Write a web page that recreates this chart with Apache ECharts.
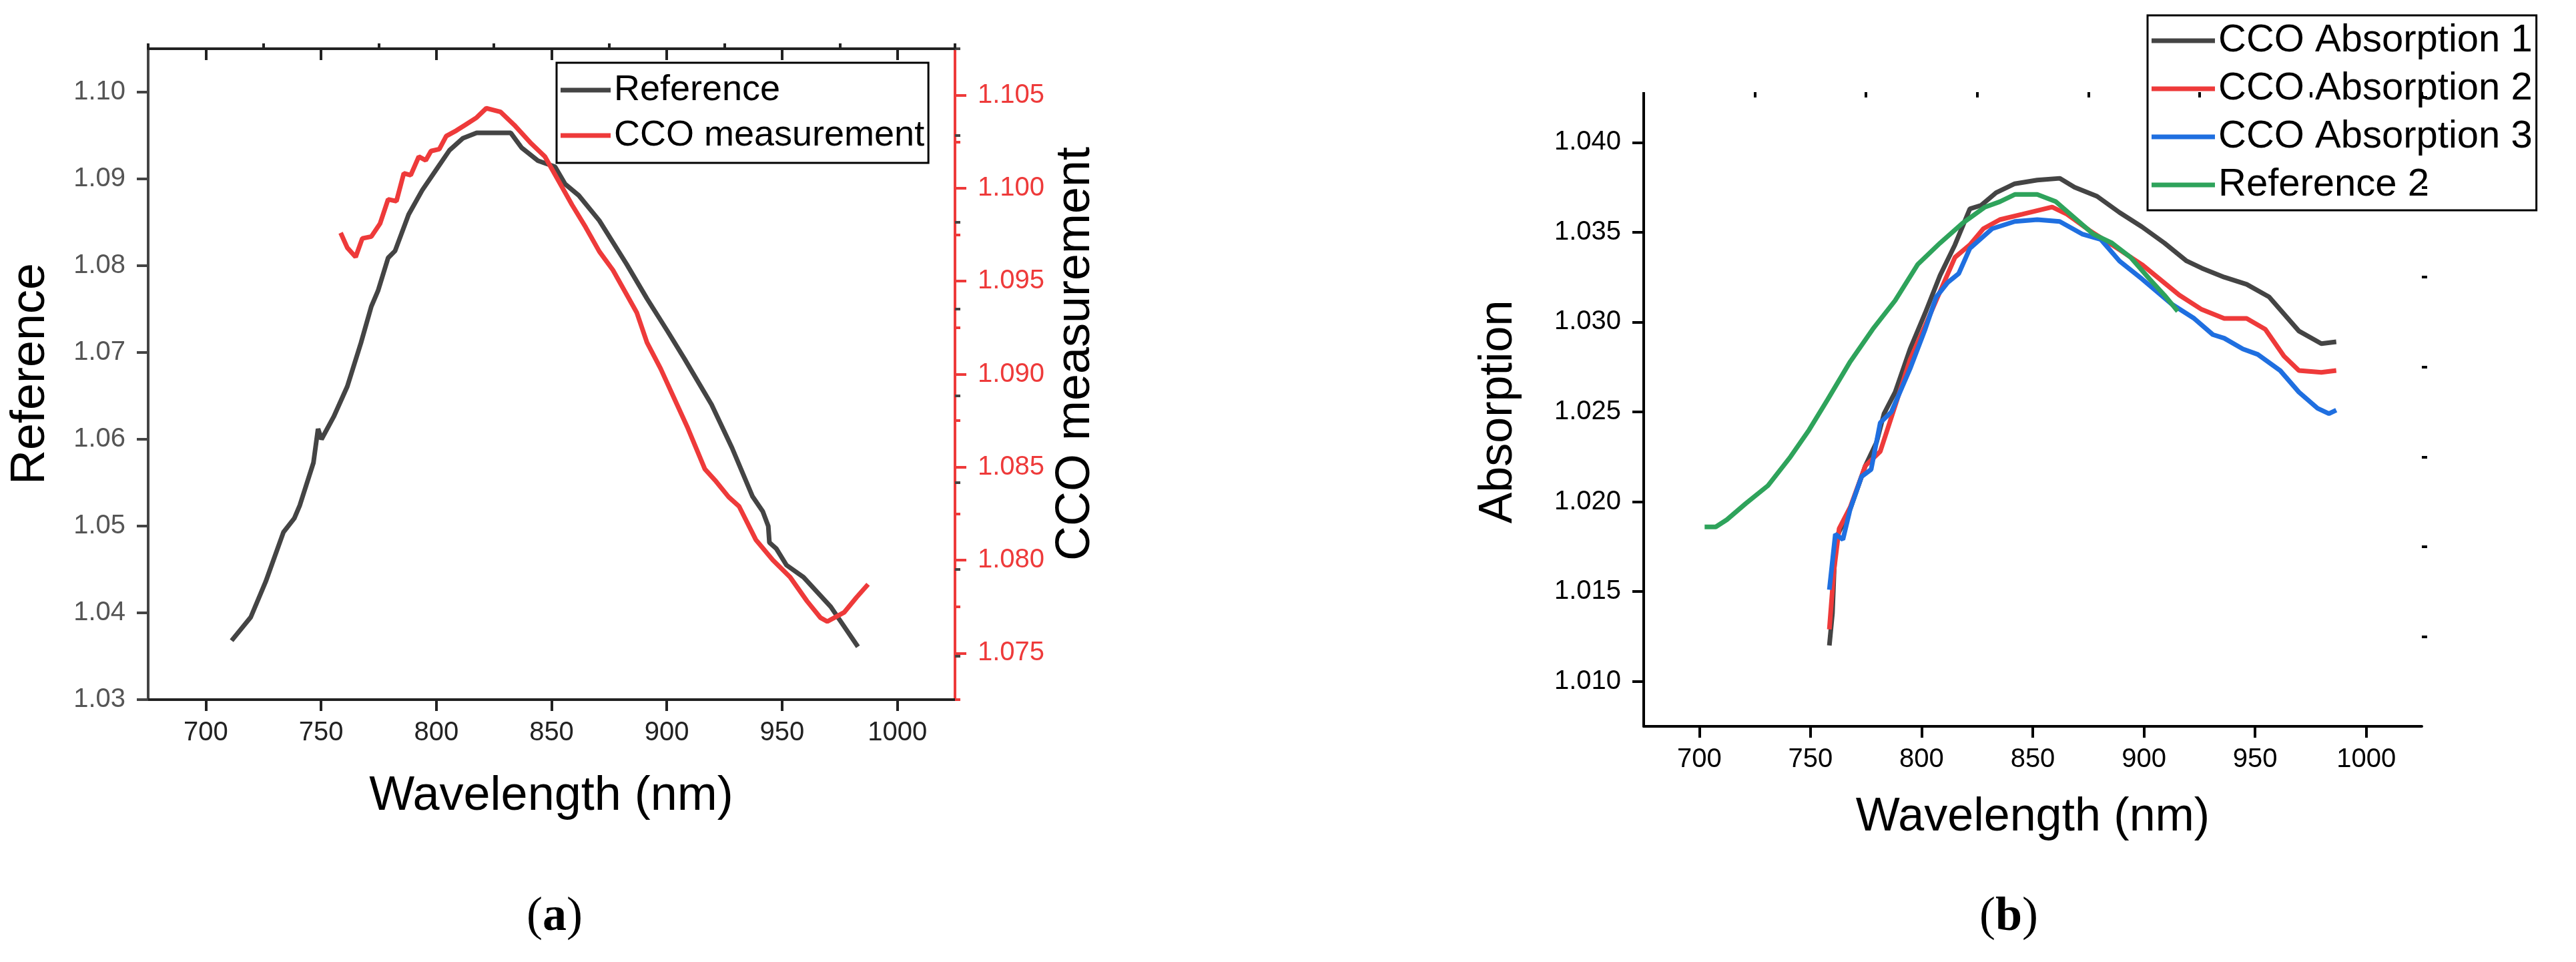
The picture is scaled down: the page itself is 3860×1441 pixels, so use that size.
<!DOCTYPE html>
<html><head><meta charset="utf-8">
<script src="https://cdn.jsdelivr.net/npm/echarts@6/dist/echarts.min.js"></script>
<style>html,body{margin:0;padding:0;background:#fff}#c{width:3860px;height:1441px}</style>
</head><body><div id="c"></div>
<script>
// ---- Data (a) ----
const refA = [[711.2,1.0368],[719.5,1.0395],[726,1.0436],[733.7,1.0493],[738.4,1.0509],[740.8,1.0524],[746.7,1.0573],[748.7,1.0612],[750.2,1.0600],[755.5,1.0626],[761.4,1.0661],[767.3,1.0711],[771.8,1.0753],[774.7,1.0771],[779.1,1.0809],[782.1,1.0817],[788,1.0859],[793.9,1.0887],[799.8,1.0910],[805.7,1.0933],[811.6,1.0947],[817.5,1.0953],[832.3,1.0953],[837,1.0936],[844.1,1.0921],[851.5,1.0914],[855.9,1.0894],[861.8,1.0881],[870.7,1.0852],[882.5,1.0802],[891.4,1.0762],[900.2,1.0725],[907.6,1.0693],[919.4,1.0640],[928.3,1.0590],[937.2,1.0534],[941.6,1.0517],[944,1.0500],[944.5,1.0481],[947.5,1.0474],[951.9,1.0455],[959.3,1.0441],[971.1,1.0407],[982.9,1.0361]];
const ccoA = [[758.5,1.0976],[761.4,1.0968],[765,1.0963],[767.9,1.0973],[771.8,1.0974],[775.6,1.0981],[779.1,1.0994],[782.7,1.0993],[785.9,1.1008],[788.9,1.1007],[792.4,1.1017],[795.4,1.1015],[797.7,1.1020],[801.3,1.1021],[804.3,1.1028],[808.7,1.1031],[812.5,1.1034],[817.5,1.1038],[821.7,1.1043],[827.9,1.1041],[833.8,1.1034],[841.2,1.1024],[847.1,1.1017],[853,1.1004],[858.9,1.0991],[864.8,1.0979],[870.7,1.0966],[876.6,1.0956],[882.5,1.0943],[887,1.0933],[891.4,1.0917],[897.3,1.0903],[903.2,1.0887],[909.1,1.0871],[916.5,1.0849],[920.9,1.0843],[926.8,1.0834],[931.3,1.0829],[938.6,1.0811],[946,1.0800],[953.4,1.0791],[960.8,1.0778],[966.7,1.0769],[969.6,1.0767],[977,1.0772],[982.3,1.0780],[987.3,1.0787]];
// ---- Data (b) ----
const abs1 = [[758.5,1.0120],[759.9,1.0138],[761.2,1.0179],[767.9,1.0196],[774.7,1.0220],[779.7,1.0233],[783.1,1.0249],[788.1,1.0261],[794.8,1.0285],[801.6,1.0305],[808.3,1.0326],[815,1.0343],[821.7,1.0363],[826.8,1.0365],[833.5,1.0372],[841.9,1.0377],[852,1.0379],[862.1,1.0380],[868.8,1.0375],[878.9,1.0370],[889,1.0361],[899.1,1.0353],[909.2,1.0344],[919.2,1.0334],[926,1.0330],[936.1,1.0325],[946.2,1.0321],[956.3,1.0314],[969.7,1.0295],[979.8,1.0288],[986.5,1.0289]];
const abs2 = [[758.5,1.0129],[760.5,1.0161],[762.9,1.0185],[767.9,1.0197],[774.7,1.0220],[781.4,1.0228],[786.4,1.0247],[794.8,1.0279],[801.6,1.0298],[808.3,1.0317],[815,1.0336],[821.7,1.0343],[827.8,1.0352],[835.2,1.0357],[845.3,1.0360],[858.7,1.0364],[865.4,1.0360],[875.5,1.0351],[885.6,1.0343],[899.1,1.0332],[915.9,1.0315],[926,1.0307],[936.1,1.0302],[946.2,1.0302],[954.6,1.0296],[963,1.0281],[969.7,1.0273],[979.8,1.0272],[986.5,1.0273]];
const abs3 = [[758.5,1.0151],[761.2,1.0182],[764.6,1.0179],[767.9,1.0196],[773,1.0214],[777.3,1.0218],[781.4,1.0244],[786.4,1.0250],[794.8,1.0274],[801.6,1.0296],[806.6,1.0314],[811.7,1.0322],[816.7,1.0327],[821.7,1.0341],[831.8,1.0352],[841.9,1.0356],[852,1.0357],[862.1,1.0356],[872.2,1.0349],[880.6,1.0346],[889,1.0334],[899.1,1.0324],[912.5,1.0310],[922.6,1.0302],[931,1.0293],[936.1,1.0291],[944.5,1.0285],[951.2,1.0282],[961.3,1.0273],[969.7,1.0261],[978.1,1.0252],[983.2,1.0249],[986.5,1.0251]];
const ref2 = [[702.4,1.0186],[707.4,1.0186],[712.4,1.0190],[720.9,1.0199],[730.9,1.0209],[741,1.0225],[749.4,1.0240],[757.8,1.0257],[767.9,1.0278],[778,1.0296],[788.1,1.0312],[798.2,1.0332],[808.3,1.0344],[818.4,1.0355],[828.5,1.0364],[835.2,1.0367],[841.9,1.0371],[852,1.0371],[860.4,1.0367],[868.8,1.0358],[877.2,1.0349],[885.6,1.0344],[894,1.0336],[902.5,1.0324],[909.2,1.0315],[915.2,1.0306]];
// ---- Tick labels ----
const xTicks = [700,750,800,850,900,950,1000];
const xMinor = [675,725,775,825,875,925,975,1025];
const yTicksA = [1.03,1.04,1.05,1.06,1.07,1.08,1.09,1.10];
const yMinorA = [1.035,1.045,1.055,1.065,1.075,1.085,1.095,1.105];
const y2TicksA = [1.075,1.080,1.085,1.090,1.095,1.100,1.105];
const y2MinorA = [1.0725,1.0775,1.0825,1.0875,1.0925,1.0975,1.1025];
const yTicksB = [1.010,1.015,1.020,1.025,1.030,1.035,1.040];
const yMinorB = [1.0125,1.0175,1.0225,1.0275,1.0325,1.0375,1.0425];

const F = 'Liberation Sans, Arial, sans-serif';
const RED = '#ee3a3a';
function ax(type, grid, opts){return Object.assign({type:'value',gridIndex:grid,splitLine:{show:false}},opts);}
function major(vals, color, len, inside, labelOpts){
  return {axisLine:{show:true,lineStyle:{color:color,width:4}},
    axisTick:{show:true,customValues:vals,length:len,inside:!!inside,lineStyle:{color:color,width:4}},
    axisLabel: labelOpts ? Object.assign({customValues:vals,fontFamily:F,fontSize:40},labelOpts) : {show:false}};
}
function minor(vals, color, len, inside){
  return {axisLine:{show:false},axisTick:{show:true,customValues:vals,length:len,inside:!!inside,lineStyle:{color:color,width:4}},axisLabel:{show:false}};
}
const xA = {min:675,max:1025};
const yA = {min:1.03,max:1.105};
const y2A = {min:1.0725,max:1.1075};
const yB = {min:1.0075,max:1.0425};

const option = {
  animation:false,
  grid:[{left:222,right:2429,top:73,bottom:393},{left:2463,right:231,top:146,bottom:353}],
  xAxis:[
    ax('v',0,Object.assign({},xA,major(xTicks,'#222',17,false,{color:'#222',margin:30,formatter:v=>String(v)}))),
    ax('v',0,Object.assign({},xA,minor(xMinor,'#222',8,false))),
    ax('v',0,Object.assign({position:'top'},xA,major(xTicks,'#222',17,true,null))),
    ax('v',1,Object.assign({},xA,major(xTicks,'#000',17,false,{color:'#000',margin:30,formatter:v=>String(v)}))),
    ax('v',1,Object.assign({},xA,minor(xMinor,'#000',8,false)))
  ],
  yAxis:[
    ax('v',0,Object.assign({},yA,major(yTicksA,'#444',17,false,{color:'#555',margin:34,formatter:v=>v.toFixed(2)}))),
    ax('v',0,Object.assign({},yA,minor(yMinorA,'#444',8,false))),
    ax('v',0,Object.assign({position:'right'},y2A,major(y2TicksA,RED,17,false,{color:RED,margin:34,formatter:v=>v.toFixed(3)}))),
    ax('v',0,Object.assign({position:'right'},y2A,minor(y2MinorA,RED,8,false))),
    ax('v',1,Object.assign({},yB,major(yTicksB,'#000',17,false,{color:'#000',margin:34,formatter:v=>v.toFixed(3)}))),
    ax('v',1,Object.assign({},yB,minor(yMinorB,'#000',8,false)))
  ],
  legend:[
    {left:834,top:94,orient:'vertical',data:['Reference','CCO measurement'],icon:'rect',itemWidth:75,itemHeight:7,itemGap:6,
     borderColor:'#000',borderWidth:3,padding:[10,6,10,6],textStyle:{fontFamily:F,fontSize:54,color:'#000',lineHeight:62}},
    {left:3218,top:23,orient:'vertical',data:['CCO Absorption 1','CCO Absorption 2','CCO Absorption 3','Reference 2'],icon:'rect',itemWidth:95,itemHeight:7,itemGap:8,
     borderColor:'#000',borderWidth:3,padding:[6,6,6,6],textStyle:{fontFamily:F,fontSize:58,color:'#000',lineHeight:64}}
  ],
  series:[
    {name:'Reference',type:'line',xAxisIndex:0,yAxisIndex:0,data:refA,showSymbol:false,lineStyle:{color:'#444',width:7},itemStyle:{color:'#444'}},
    {name:'CCO measurement',type:'line',xAxisIndex:0,yAxisIndex:2,data:ccoA,showSymbol:false,lineStyle:{color:RED,width:7},itemStyle:{color:RED}},
    {name:'CCO Absorption 1',type:'line',xAxisIndex:3,yAxisIndex:4,data:abs1,showSymbol:false,lineStyle:{color:'#444',width:7},itemStyle:{color:'#444'}},
    {name:'CCO Absorption 2',type:'line',xAxisIndex:3,yAxisIndex:4,data:abs2,showSymbol:false,lineStyle:{color:RED,width:7},itemStyle:{color:RED}},
    {name:'CCO Absorption 3',type:'line',xAxisIndex:3,yAxisIndex:4,data:abs3,showSymbol:false,lineStyle:{color:'#1f6fe0',width:7},itemStyle:{color:'#1f6fe0'}},
    {name:'Reference 2',type:'line',xAxisIndex:3,yAxisIndex:4,data:ref2,showSymbol:false,lineStyle:{color:'#2ea35b',width:7},itemStyle:{color:'#2ea35b'}}
  ],
  graphic:[
    {type:'text',x:826,y:1193,style:{text:'Wavelength (nm)',font:'72px '+F,fill:'#000',align:'center',verticalAlign:'middle'}},
    {type:'text',x:46,y:560,rotation:Math.PI/2,style:{text:'Reference',font:'72px '+F,fill:'#000',align:'center',verticalAlign:'middle'}},
    {type:'text',x:1612,y:530,rotation:Math.PI/2,style:{text:'CCO measurement',font:'72px '+F,fill:'#000',align:'center',verticalAlign:'middle'}},
    {type:'text',x:3046,y:1225,style:{text:'Wavelength (nm)',font:'70px '+F,fill:'#000',align:'center',verticalAlign:'middle'}},
    {type:'text',x:2246,y:617,rotation:Math.PI/2,style:{text:'Absorption',font:'70px '+F,fill:'#000',align:'center',verticalAlign:'middle'}},
    {type:'text',x:831,y:1374,style:{text:'{p|(}{b|a}{p|)}',align:'center',verticalAlign:'middle',rich:{p:{font:'72px Liberation Serif',fill:'#000'},b:{font:'bold 72px Liberation Serif',fill:'#000'}}}},
    {type:'text',x:3010,y:1374,style:{text:'{p|(}{b|b}{p|)}',align:'center',verticalAlign:'middle',rich:{p:{font:'72px Liberation Serif',fill:'#000'},b:{font:'bold 72px Liberation Serif',fill:'#000'}}}}
  ]
};
const chart = echarts.init(document.getElementById('c'));
chart.setOption(option);
</script></body></html>
